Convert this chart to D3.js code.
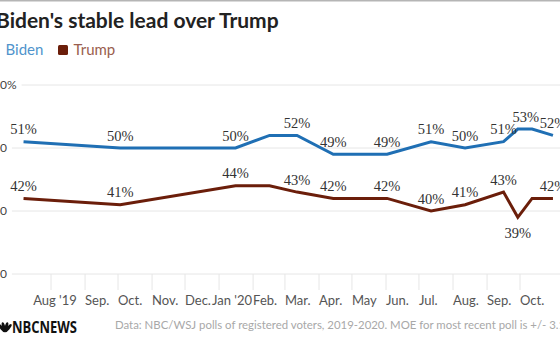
<!DOCTYPE html>
<html>
<head>
<meta charset="utf-8">
<script src="https://cdn.jsdelivr.net/npm/d3@7"></script>
<style>
  body { margin: 0; background: #fff; }
  svg { display: block; }
</style>
</head>
<body>
<svg id="chart" width="560" height="350"></svg>
<script>
// poll dates (approx)
const pollDates = ["2019-07-07", "2019-10-03", "2020-01-16", "2020-02-16", "2020-03-12", "2020-04-14",
  "2020-06-02", "2020-07-12", "2020-08-12", "2020-09-16", "2020-09-29", "2020-10-12", "2020-10-31"];
const bidenValues = [51, 50, 50, 52, 52, 49, 49, 51, 50, 51, 53, 53, 52];
const trumpValues = [42, 41, 44, 44, 43, 42, 42, 40, 41, 43, 39, 42, 42];
// which points carry a value label
const bidenLabelled = [0, 1, 2, 4, 5, 6, 7, 8, 9, 10, 12];
const trumpLabelled = [0, 1, 2, 4, 5, 6, 7, 8, 9, 10, 12];
const yTicks = [30, 40, 50, 60];
const monthTicks = ["2019-08-01", "2019-09-01", "2019-10-01", "2019-11-01", "2019-12-01", "2020-01-01",
  "2020-02-01", "2020-03-01", "2020-04-01", "2020-05-01", "2020-06-01", "2020-07-01", "2020-08-01",
  "2020-09-01", "2020-10-01"];
const monthLabels = ["Aug '19", "Sep.", "Oct.", "Nov.", "Dec.", "Jan '20", "Feb.", "Mar.", "Apr.", "May",
  "Jun.", "Jul.", "Aug.", "Sep.", "Oct."];

const parse = d3.timeParse("%Y-%m-%d");
const dates = pollDates.map(parse);

const svg = d3.select("#chart");
const sans = "Lato, 'Open Sans', sans-serif";

const x = d3.scaleTime()
    .domain([parse(monthTicks[0]), parse(monthTicks[monthTicks.length - 1])])
    .range([51, 520]);

const y = d3.scaleLinear()
    .domain([30, 60])
    .range([274, 85]);

// top rule
svg.append("rect").attr("x", 0).attr("y", 0).attr("width", 560).attr("height", 1.5).attr("fill", "#b5b5b5");

// Title
svg.append("text")
    .attr("x", -4)
    .attr("y", 28)
    .style("font-family", sans)
    .style("font-size", "21px")
    .style("font-weight", "700")
    .attr("fill", "#222")
    .text("Biden's stable lead over Trump");

// Legend
const legend = [
    {name: "Biden", color: "#1f6fb4", text: "#4f94cc", x: -10},
    {name: "Trump", color: "#6b1e0a", text: "#9a5e4e", x: 58}
];
legend.forEach(l => {
    svg.append("rect")
        .attr("x", l.x).attr("y", 45)
        .attr("width", 10).attr("height", 10)
        .attr("rx", 1.5)
        .attr("fill", l.color);
    svg.append("text")
        .attr("x", l.x + 15.5).attr("y", 55)
        .style("font-family", sans)
        .style("font-size", "15px")
        .attr("fill", l.text)
        .text(l.name);
});

// y grid + labels
const yAxis = svg.append("g");
yTicks.forEach(t => {
    const lbl = yAxis.append("text")
        .attr("x", -7)
        .attr("y", y(t))
        .attr("dy", "0.35em")
        .style("font-family", sans)
        .style("font-size", "12px")
        .attr("fill", "#444")
        .text(t === 60 ? t + "%" : t);
    const w = lbl.node().getComputedTextLength();
    yAxis.append("line")
        .attr("x1", -7 + w + 5).attr("x2", 560)
        .attr("y1", y(t)).attr("y2", y(t))
        .attr("stroke", "#e6e6e6")
        .attr("stroke-width", 1);
});

// x ticks + labels
const xAxis = svg.append("g");
monthTicks.forEach((m, i) => {
    const tx = x(parse(m));
    xAxis.append("line")
        .attr("x1", tx).attr("x2", tx)
        .attr("y1", y(30)).attr("y2", y(30) + 16)
        .attr("stroke", "#e6e6e6");
    const isYear = monthLabels[i].indexOf("'") >= 0;
    xAxis.append("text")
        .attr("x", isYear ? tx + (i === 0 ? 4 : 13) : tx)
        .attr("y", 305)
        .attr("text-anchor", isYear ? "middle" : "start")
        .style("font-family", sans)
        .style("font-size", "13px")
        .attr("fill", "#555")
        .text(monthLabels[i]);
});

// Lines
const series = [
    {values: bidenValues, color: "#1f6fb4", labelled: bidenLabelled},
    {values: trumpValues, color: "#6b1e0a", labelled: trumpLabelled}
];

const line = d3.line()
    .x((d, i) => x(dates[i]))
    .y(d => y(d));

series.forEach(s => {
    svg.append("path")
        .datum(s.values)
        .attr("fill", "none")
        .attr("stroke", s.color)
        .attr("stroke-width", 3)
        .attr("d", line);
});

// value labels
series.forEach((s, si) => {
    svg.append("g")
        .selectAll("text")
        .data(s.labelled)
        .join("text")
        .attr("x", i => {
            let px = x(dates[i]);
            // nudge the plateau label of Biden's late-Sept high
            if (si === 0 && s.values[i + 1] === s.values[i] && i === 10) px += 8;
            return px;
        })
        .attr("y", i => {
            const v = s.values[i];
            const prev = s.values[i - 1], next = s.values[i + 1];
            const dip = prev !== undefined && next !== undefined && prev - v >= 2 && next - v >= 2;
            return dip ? y(v) + 21 : y(v) - 7.5;
        })
        .attr("text-anchor", "middle")
        .style("font-family", "'Liberation Serif', 'DejaVu Serif', serif")
        .style("font-size", "14.5px")
        .attr("fill", "#333")
        .text(i => s.values[i] + "%");
});

// Footer: logo
const logo = svg.append("g").attr("transform", "translate(0,320)");
[-40, -15, 15, 40].forEach(a => {
    logo.append("ellipse")
        .attr("cx", 5).attr("cy", 7).attr("rx", 1.6).attr("ry", 5)
        .attr("transform", `rotate(${a},5,12)`)
        .attr("fill", "#111");
});
logo.append("text")
    .attr("x", 12).attr("y", 12.5)
    .attr("textLength", 65)
    .attr("lengthAdjust", "spacingAndGlyphs")
    .style("font-family", "'Open Sans', sans-serif")
    .style("font-size", "16.5px")
    .style("font-weight", "700")
    .attr("fill", "#111")
    .text("NBCNEWS");

// Footer: source
svg.append("text")
    .attr("x", 115).attr("y", 329)
    .style("font-family", sans)
    .style("font-size", "11.4px")
    .attr("fill", "#a8a8a8")
    .text("Data: NBC/WSJ polls of registered voters, 2019-2020. MOE for most recent poll is +/- 3.1");
</script>
</body>
</html>
